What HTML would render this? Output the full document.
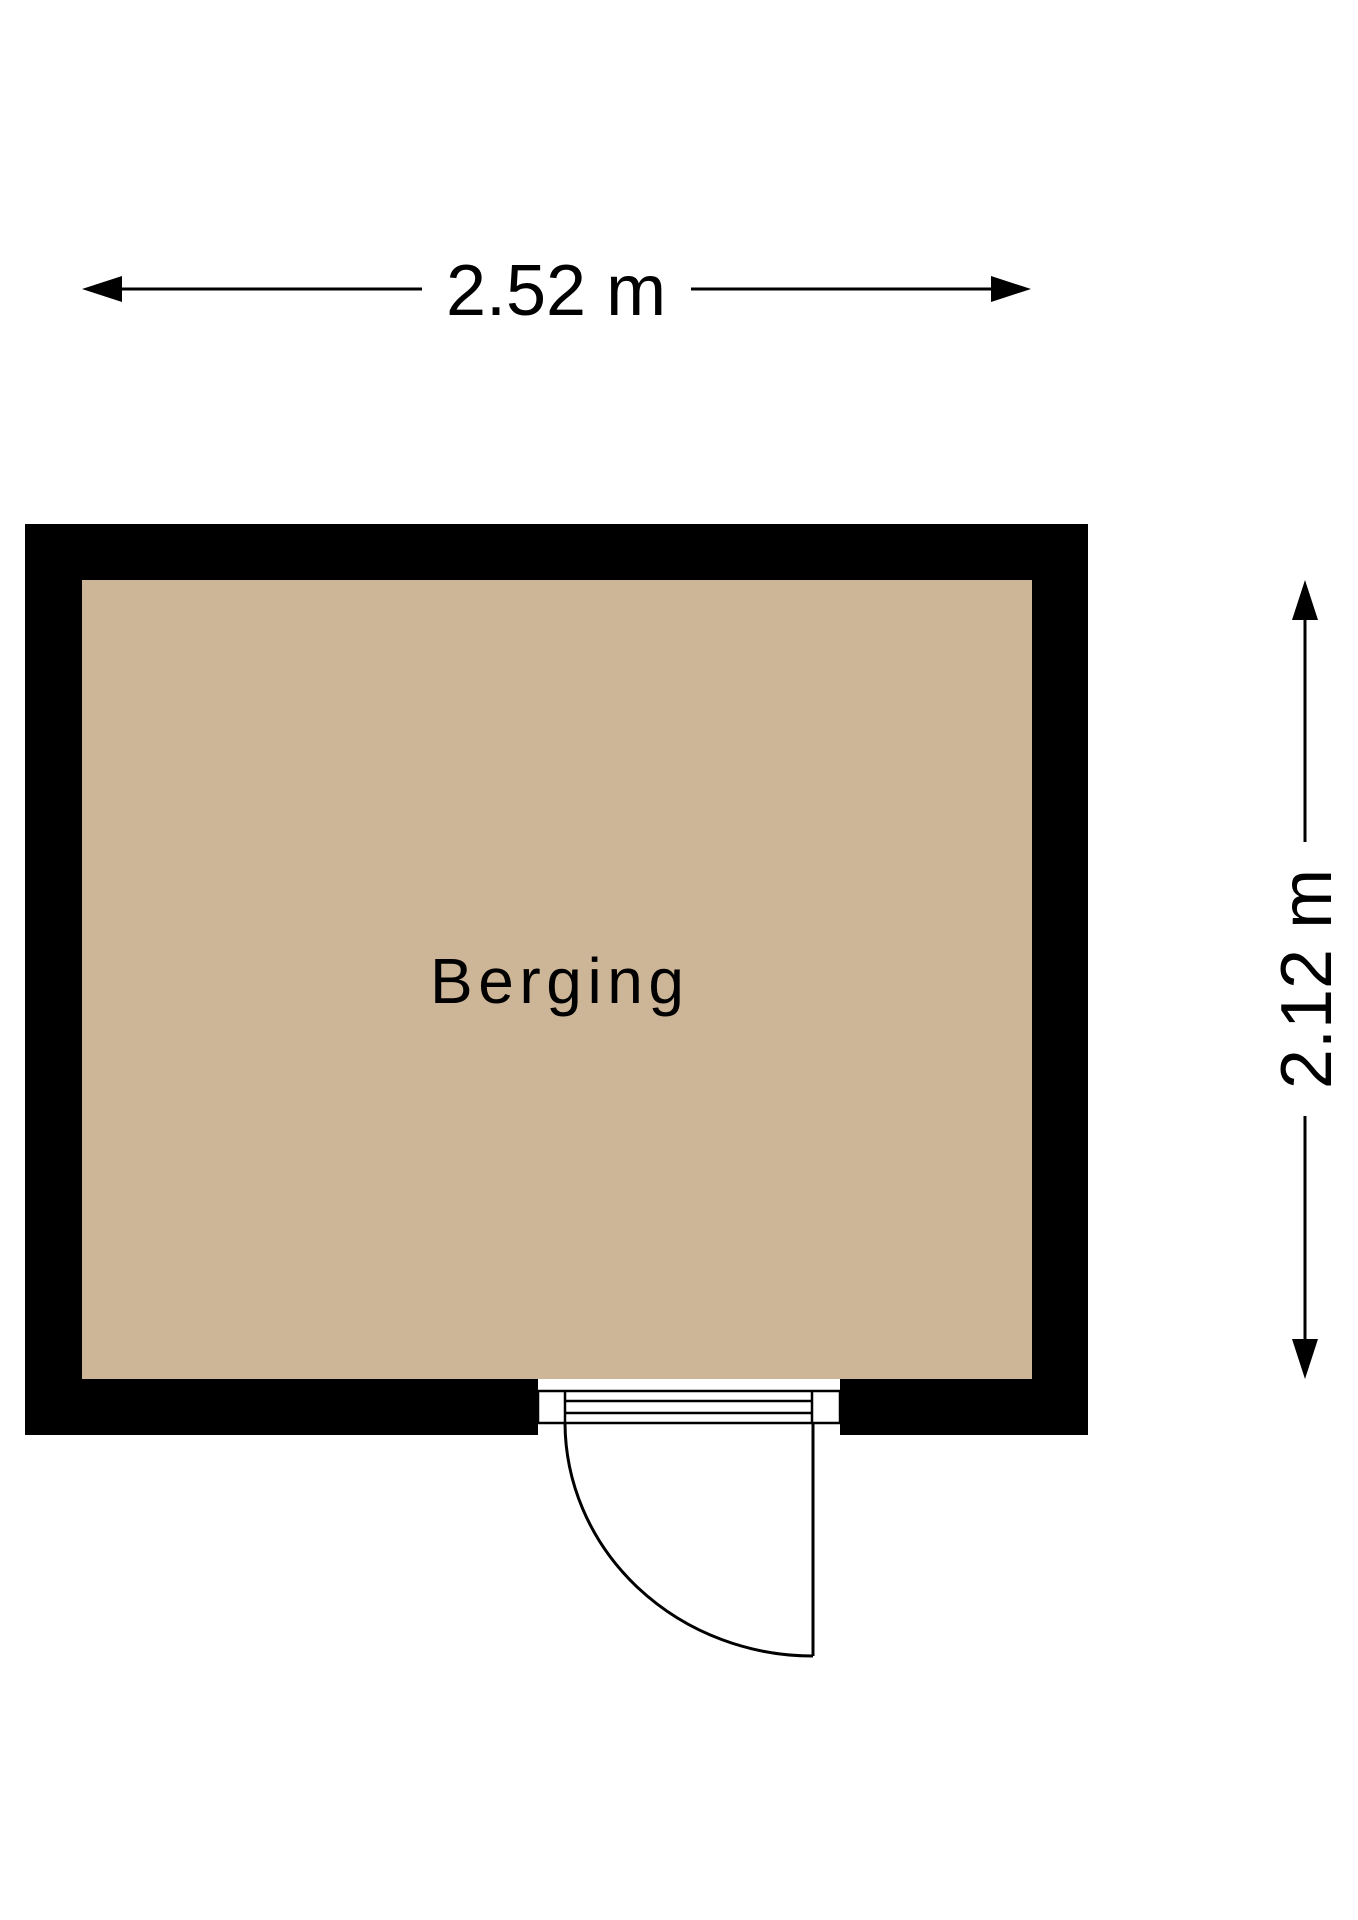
<!DOCTYPE html>
<html><head><meta charset="utf-8"><style>html,body{margin:0;padding:0;background:#fff}svg{display:block}</style></head>
<body>
<svg width="1358" height="1920" viewBox="0 0 1358 1920" xmlns="http://www.w3.org/2000/svg" font-family="Liberation Sans, Arial, sans-serif">
<rect x="0" y="0" width="1358" height="1920" fill="#fff"/>
<!-- walls -->
<rect x="25" y="524" width="1063" height="911" fill="#000"/>
<rect x="82" y="580" width="950" height="799" fill="#cdb698"/>
<!-- door gap -->
<rect x="538" y="1379" width="302" height="57" fill="#fff"/>
<g stroke="#000" stroke-width="2.5" fill="none">
<rect x="538" y="1391" width="302" height="32"/>
<line x1="565" y1="1391" x2="565" y2="1423"/>
<line x1="812" y1="1391" x2="812" y2="1423"/>
<line x1="565" y1="1401" x2="812" y2="1401"/>
<line x1="565" y1="1413" x2="812" y2="1413"/>
<line x1="813" y1="1423" x2="813" y2="1656" stroke-width="3"/>
<path d="M565 1423 A248 234 0 0 0 813 1656" stroke-width="3"/>
</g>
<!-- horizontal dimension -->
<line x1="100" y1="289" x2="422" y2="289" stroke="#000" stroke-width="3"/>
<line x1="691" y1="289" x2="1012" y2="289" stroke="#000" stroke-width="3"/>
<polygon points="82,289 122,276 122,302" fill="#000"/>
<polygon points="1031,289 991,276 991,302" fill="#000"/>
<text x="556" y="315" font-size="72" text-anchor="middle" fill="#000">2.52 m</text>
<!-- vertical dimension -->
<line x1="1305" y1="600" x2="1305" y2="842" stroke="#000" stroke-width="3"/>
<line x1="1305" y1="1116" x2="1305" y2="1360" stroke="#000" stroke-width="3"/>
<polygon points="1305,580 1292,620 1318,620" fill="#000"/>
<polygon points="1305,1379 1292,1339 1318,1339" fill="#000"/>
<text x="0" y="0" font-size="72" text-anchor="middle" fill="#000" transform="translate(1331 979) rotate(-90)">2.12 m</text>
<!-- label -->
<text x="430" y="1003" font-size="64" textLength="254" lengthAdjust="spacing" fill="#000">Berging</text>
</svg>
</body></html>
